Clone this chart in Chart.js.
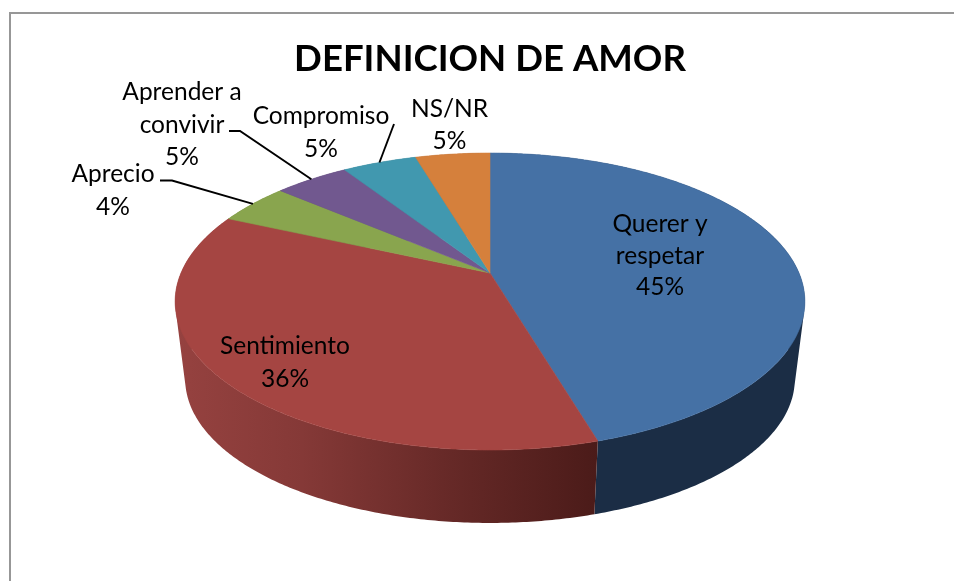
<!DOCTYPE html>
<html>
<head>
<meta charset="utf-8">
<style>html,body{margin:0;padding:0;background:#fff}canvas{display:block}</style>
<script src="https://cdn.jsdelivr.net/npm/chart.js@4"></script>
</head>
<body>
<canvas id="c" width="954" height="581"></canvas>
<script>
const categories = ['Querer y respetar', 'Sentimiento', 'Aprecio', 'Aprender a convivir', 'Compromiso', 'NS/NR'];
const values = [45.4, 36.3, 4.49, 4.6, 4.6, 4.6];
const chartTitle = 'DEFINICION DE AMOR';
const faceColors = ['#4571A5', '#A54542', '#89A54E', '#71588F', '#4198AF', '#D5803C'];

const FONT = 'Lato, Carlito, Calibri, sans-serif';
const labelSize = 24.5;
const view = {cy: 273, R: 309, a: 143, k: 0.192, s: 0.968, vanishY: 2730};
const wallStops = [
  [[0, '#1B2D45'], [1, '#1B2D45']],
  [[0, '#964240'], [0.3, '#853937'], [0.7, '#622725'], [1, '#4B1B19']],
  [[0, '#5F7236'], [1, '#5F7236']],
  [[0, '#4E3D63'], [1, '#4E3D63']],
  [[0, '#2D6979'], [1, '#2D6979']],
  [[0, '#945929'], [1, '#945929']]
];
// text layout: lines, centre x and first baseline
const labelLayout = [
  {lines: ['Querer y', 'respetar'], x: 660, y: 232, lh: 31.5},
  {lines: ['Sentimiento'], x: 285, y: 354, lh: 33},
  {lines: ['Aprecio'], x: 113, y: 182, lh: 33, leader: [[160, 180.5], [172, 180.5]]},
  {lines: ['Aprender a', 'convivir'], x: 182, y: 100, lh: 32.5, leader: [[229, 131], [240, 131]]},
  {lines: ['Compromiso'], x: 321, y: 124, lh: 33, leader: [[394, 124]]},
  {lines: ['NS/NR'], x: 449.5, y: 117, lh: 32}
];

function rim(cx, th) {
  const u = Math.cos(th), v = Math.sin(th), d = 1 - view.k * v;
  return [cx + view.R * u / d, view.cy + view.a * v / d];
}
function lower(cx, p) {
  return [cx + (p[0] - cx) * view.s, view.vanishY + (p[1] - view.vanishY) * view.s];
}
function arcPoints(cx, a0, a1) {
  const n = Math.max(2, Math.ceil((a1 - a0) / 0.01)), pts = [];
  for (let i = 0; i <= n; i++) pts.push(rim(cx, a0 + (a1 - a0) * i / n));
  return pts;
}
function drawFace(ctx) {
  const pts = arcPoints(this.x, this.startAngle, this.endAngle);
  ctx.beginPath();
  ctx.moveTo(this.x, view.cy);
  pts.forEach(p => ctx.lineTo(p[0], p[1]));
  ctx.closePath();
  ctx.fillStyle = this.options.backgroundColor;
  ctx.strokeStyle = this.options.backgroundColor;
  ctx.lineWidth = 0.6;
  ctx.fill();
  ctx.stroke();
}
function quadArea(q) {
  let s = 0;
  q.forEach((p, i) => { const n = q[(i + 1) % q.length]; s += p[0] * n[1] - n[0] * p[1]; });
  return s;
}

const pie3d = {
  id: 'pie3d',
  beforeDraw(chart) {
    const ctx = chart.ctx;
    ctx.save();
    ctx.fillStyle = '#fff';
    ctx.fillRect(0, 0, chart.width, chart.height);
    ctx.fillStyle = '#979797';
    ctx.fillRect(9, 12, chart.width - 9, 2);
    ctx.fillRect(9, 12, 2, chart.height - 12);
    ctx.restore();
  },
  beforeDatasetsDraw(chart) {
    const ctx = chart.ctx, arcs = chart.getDatasetMeta(0).data;
    ctx.save();
    arcs.forEach((arc, i) => {
      arc.draw = drawFace;
      const top = arcPoints(arc.x, arc.startAngle, arc.endAngle);
      const g = ctx.createLinearGradient(arc.x - view.R * 1.02, 0, rim(arc.x, arcs[0].endAngle)[0], 0);
      wallStops[i].forEach(st => g.addColorStop(st[0], st[1]));
      ctx.beginPath();
      for (let j = 0; j < top.length - 1; j++) {
        let q = [top[j], top[j + 1], lower(arc.x, top[j + 1]), lower(arc.x, top[j])];
        if (quadArea(q) < 0) q = q.reverse();
        q.forEach((p, m) => m ? ctx.lineTo(p[0], p[1]) : ctx.moveTo(p[0], p[1]));
        ctx.closePath();
      }
      ctx.fillStyle = g;
      ctx.fill();
    });
    ctx.restore();
  },
  afterDatasetsDraw(chart) {
    const ctx = chart.ctx, arcs = chart.getDatasetMeta(0).data;
    ctx.save();
    ctx.fillStyle = '#000';
    ctx.strokeStyle = '#000';
    ctx.font = labelSize + 'px ' + FONT;
    ctx.textAlign = 'center';
    ctx.textBaseline = 'alphabetic';
    labelLayout.forEach((lab, i) => {
      const pct = Math.round(values[i]) + '%';
      lab.lines.concat([pct]).forEach((t, j) => ctx.fillText(t, lab.x, lab.y + j * lab.lh));
      if (lab.leader) {
        const arc = arcs[i], end = rim(arc.x, (arc.startAngle + arc.endAngle) / 2);
        ctx.lineWidth = 1.9;
        ctx.beginPath();
        lab.leader.concat([end]).forEach((p, j) => j ? ctx.lineTo(p[0], p[1]) : ctx.moveTo(p[0], p[1]));
        ctx.stroke();
      }
    });
    ctx.restore();
  }
};

new Chart(document.getElementById('c'), {
  type: 'pie',
  plugins: [pie3d],
  data: {
    labels: categories,
    datasets: [{data: values, backgroundColor: faceColors, borderWidth: 0}]
  },
  options: {
    responsive: false,
    animation: false,
    layout: {padding: {left: 26, top: 37}},
    plugins: {
      legend: {display: false},
      tooltip: {enabled: false},
      title: {
        display: true,
        text: chartTitle,
        color: '#000',
        font: {family: FONT, size: 36.6, weight: 'bold'},
        padding: {top: 0, bottom: 0}
      }
    }
  }
});
</script>
</body>
</html>
